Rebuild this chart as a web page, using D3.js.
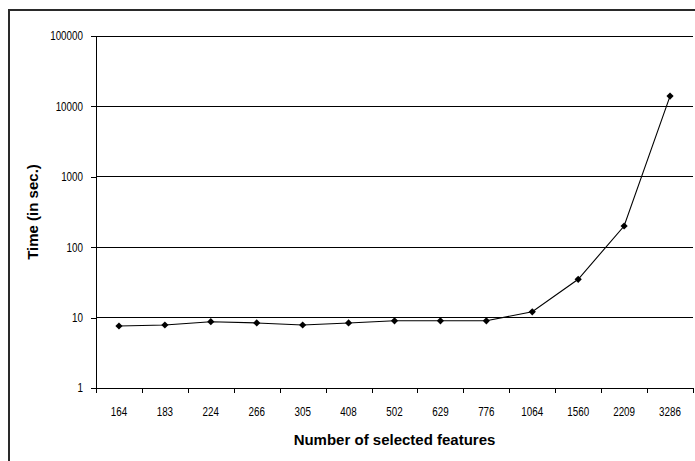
<!DOCTYPE html>
<html>
<head>
<meta charset="utf-8">
<script src="https://cdn.jsdelivr.net/npm/d3@7"></script>
<style>
  html, body { margin: 0; padding: 0; background: #fff; }
  svg { display: block; }
  text { font-family: "Liberation Sans", Arial, sans-serif; fill: #000; }
</style>
</head>
<body>
<svg id="chart" width="695" height="461"></svg>
<script>
// Number of selected features (categories) and run time in seconds
const features = ["164", "183", "224", "266", "305", "408", "502", "629", "776", "1064", "1560", "2209", "3286"];
const timeSec  = [7.6, 7.85, 8.75, 8.4, 7.85, 8.4, 9.0, 9.0, 9.0, 12.1, 35, 200, 14000];
const yTicks   = [1, 10, 100, 1000, 10000, 100000];

const svg = d3.select("#chart");
const W = 695, H = 461;
const plot = { left: 96, right: 693, top: 36, bottom: 388 };
const narrow = 0.82; // horizontal squeeze for tick label glyphs

// outer frame (right/bottom edges run past the canvas)
svg.append("rect")
  .attr("x", 9).attr("y", 10)
  .attr("width", W + 20).attr("height", H + 20)
  .attr("fill", "none").attr("stroke", "#2a2a2a").attr("stroke-width", 2);

const x = d3.scaleBand().domain(features).range([plot.left, plot.right]).padding(0);
const xEdge = d3.scaleLinear().domain([0, features.length]).range([plot.left, plot.right]);
const y = d3.scaleLog().domain([1, 100000]).range([plot.bottom, plot.top]);

// horizontal gridlines
svg.append("g")
  .selectAll("line").data(yTicks.slice(1)).join("line")
  .attr("x1", plot.left).attr("x2", plot.right)
  .attr("y1", d => y(d)).attr("y2", d => y(d))
  .attr("stroke", "#000").attr("stroke-width", 1)
  .attr("shape-rendering", "crispEdges");

// y axis
const yAxis = svg.append("g")
  .attr("transform", `translate(${plot.left},0)`)
  .call(d3.axisLeft(y).tickValues(yTicks).tickFormat(d3.format("d")).tickSize(5).tickSizeOuter(0));
yAxis.select(".domain").attr("shape-rendering", "crispEdges");
yAxis.selectAll(".tick line").attr("shape-rendering", "crispEdges");
yAxis.selectAll("text")
  .attr("font-size", 12)
  .attr("font-family", "Liberation Sans, Arial, sans-serif")
  .attr("x", -13 / narrow)
  .attr("transform", `scale(${narrow},1)`);

// x axis: tick marks on category boundaries
const xTickAxis = svg.append("g")
  .attr("transform", `translate(0,${plot.bottom})`)
  .call(d3.axisBottom(xEdge).ticks(features.length).tickFormat("").tickSize(5).tickSizeOuter(0));
xTickAxis.select(".domain").attr("shape-rendering", "crispEdges");
xTickAxis.selectAll(".tick line").attr("shape-rendering", "crispEdges");

// x axis: category labels centred in each band
const xLabelAxis = svg.append("g")
  .attr("transform", `translate(0,${plot.bottom})`)
  .call(d3.axisBottom(x).tickSize(0));
xLabelAxis.select(".domain").remove();
xLabelAxis.selectAll("text")
  .attr("font-size", 12)
  .attr("font-family", "Liberation Sans, Arial, sans-serif")
  .attr("y", 28).attr("dy", 0)
  .attr("transform", `scale(${narrow},1)`);

// series line
const pts = features.map((f, i) => [x(f) + x.bandwidth() / 2, y(timeSec[i])]);
svg.append("path")
  .attr("d", d3.line()(pts))
  .attr("fill", "none").attr("stroke", "#000").attr("stroke-width", 1.1);

// diamond markers
const diamond = {
  draw(ctx, size) {
    const r = Math.sqrt(size / 2);
    ctx.moveTo(0, -r); ctx.lineTo(r, 0); ctx.lineTo(0, r); ctx.lineTo(-r, 0); ctx.closePath();
  }
};
svg.append("g")
  .selectAll("path").data(pts).join("path")
  .attr("transform", d => `translate(${d[0]},${d[1]})`)
  .attr("d", d3.symbol().type(diamond).size(26))
  .attr("fill", "#000");

// axis titles
svg.append("text")
  .attr("x", (plot.left + plot.right) / 2).attr("y", 445)
  .attr("text-anchor", "middle")
  .attr("font-size", 15).attr("font-weight", "bold")
  .text("Number of selected features");

svg.append("text")
  .attr("transform", `translate(38,${(plot.top + plot.bottom) / 2}) rotate(-90)`)
  .attr("text-anchor", "middle")
  .attr("font-size", 15).attr("font-weight", "bold")
  .text("Time (in sec.)");
</script>
</body>
</html>
